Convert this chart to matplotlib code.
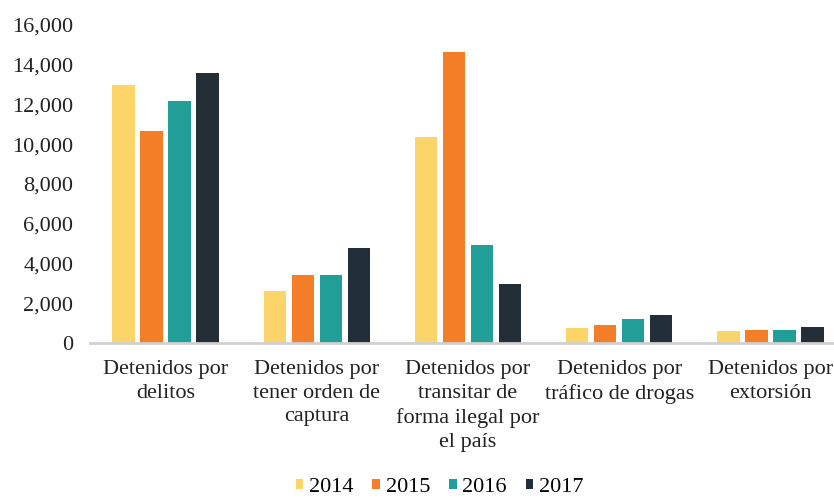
import numpy as np
import matplotlib.pyplot as plt
from matplotlib.ticker import FuncFormatter

categorias = ['Detenidos por\ndelitos',
              'Detenidos por\ntener orden de\ncaptura',
              'Detenidos por\ntransitar de\nforma ilegal por\nel país',
              'Detenidos por\ntráfico de drogas',
              'Detenidos por\nextorsión']
anios = ['2014', '2015', '2016', '2017']
v2014 = [13000, 2600, 10350, 760, 580]
v2015 = [10650, 3400, 14650, 890, 640]
v2016 = [12200, 3400, 4950, 1200, 640]
v2017 = [13600, 4800, 2970, 1400, 820]
colores = ['#FCD56A', '#F47D27', '#229E99', '#232F38']

plt.rcParams['font.family'] = ['Liberation Serif', 'DejaVu Serif']

fig = plt.figure(figsize=(8.34, 4.98), dpi=100)
ax = fig.add_axes([90 / 834, 155 / 498, 756 / 834, 318 / 498])

x = np.arange(len(categorias))
slot = 0.185
ancho = 0.148
for i, (serie, c) in enumerate(zip([v2014, v2015, v2016, v2017], colores)):
    ax.bar(x + (i - 1.5) * slot, serie, ancho, color=c, label=anios[i])

ax.set_xlim(-0.5, len(categorias) - 0.5)
ax.set_ylim(0, 16000)
ax.set_yticks(np.arange(0, 16001, 2000))
ax.yaxis.set_major_formatter(FuncFormatter(lambda v, p: f'{int(v):,}'))
ax.set_xticks(x)
ax.set_xticklabels(categorias, linespacing=1.35)
ax.tick_params(axis='both', length=0, labelsize=16, colors='#222222')
ax.tick_params(axis='x', pad=12)
ax.tick_params(axis='y', pad=12)

for s in ['top', 'right', 'left']:
    ax.spines[s].set_visible(False)
ax.spines['bottom'].set_color('#D0D0D0')
ax.spines['bottom'].set_linewidth(2)

fig.legend(loc='lower center', bbox_to_anchor=(0.527, -0.038), ncol=4, frameon=False,
           fontsize=16, handlelength=0.35, handleheight=0.35, handletextpad=0.25,
           columnspacing=0.85)

fig.savefig('out.png', dpi=100)
